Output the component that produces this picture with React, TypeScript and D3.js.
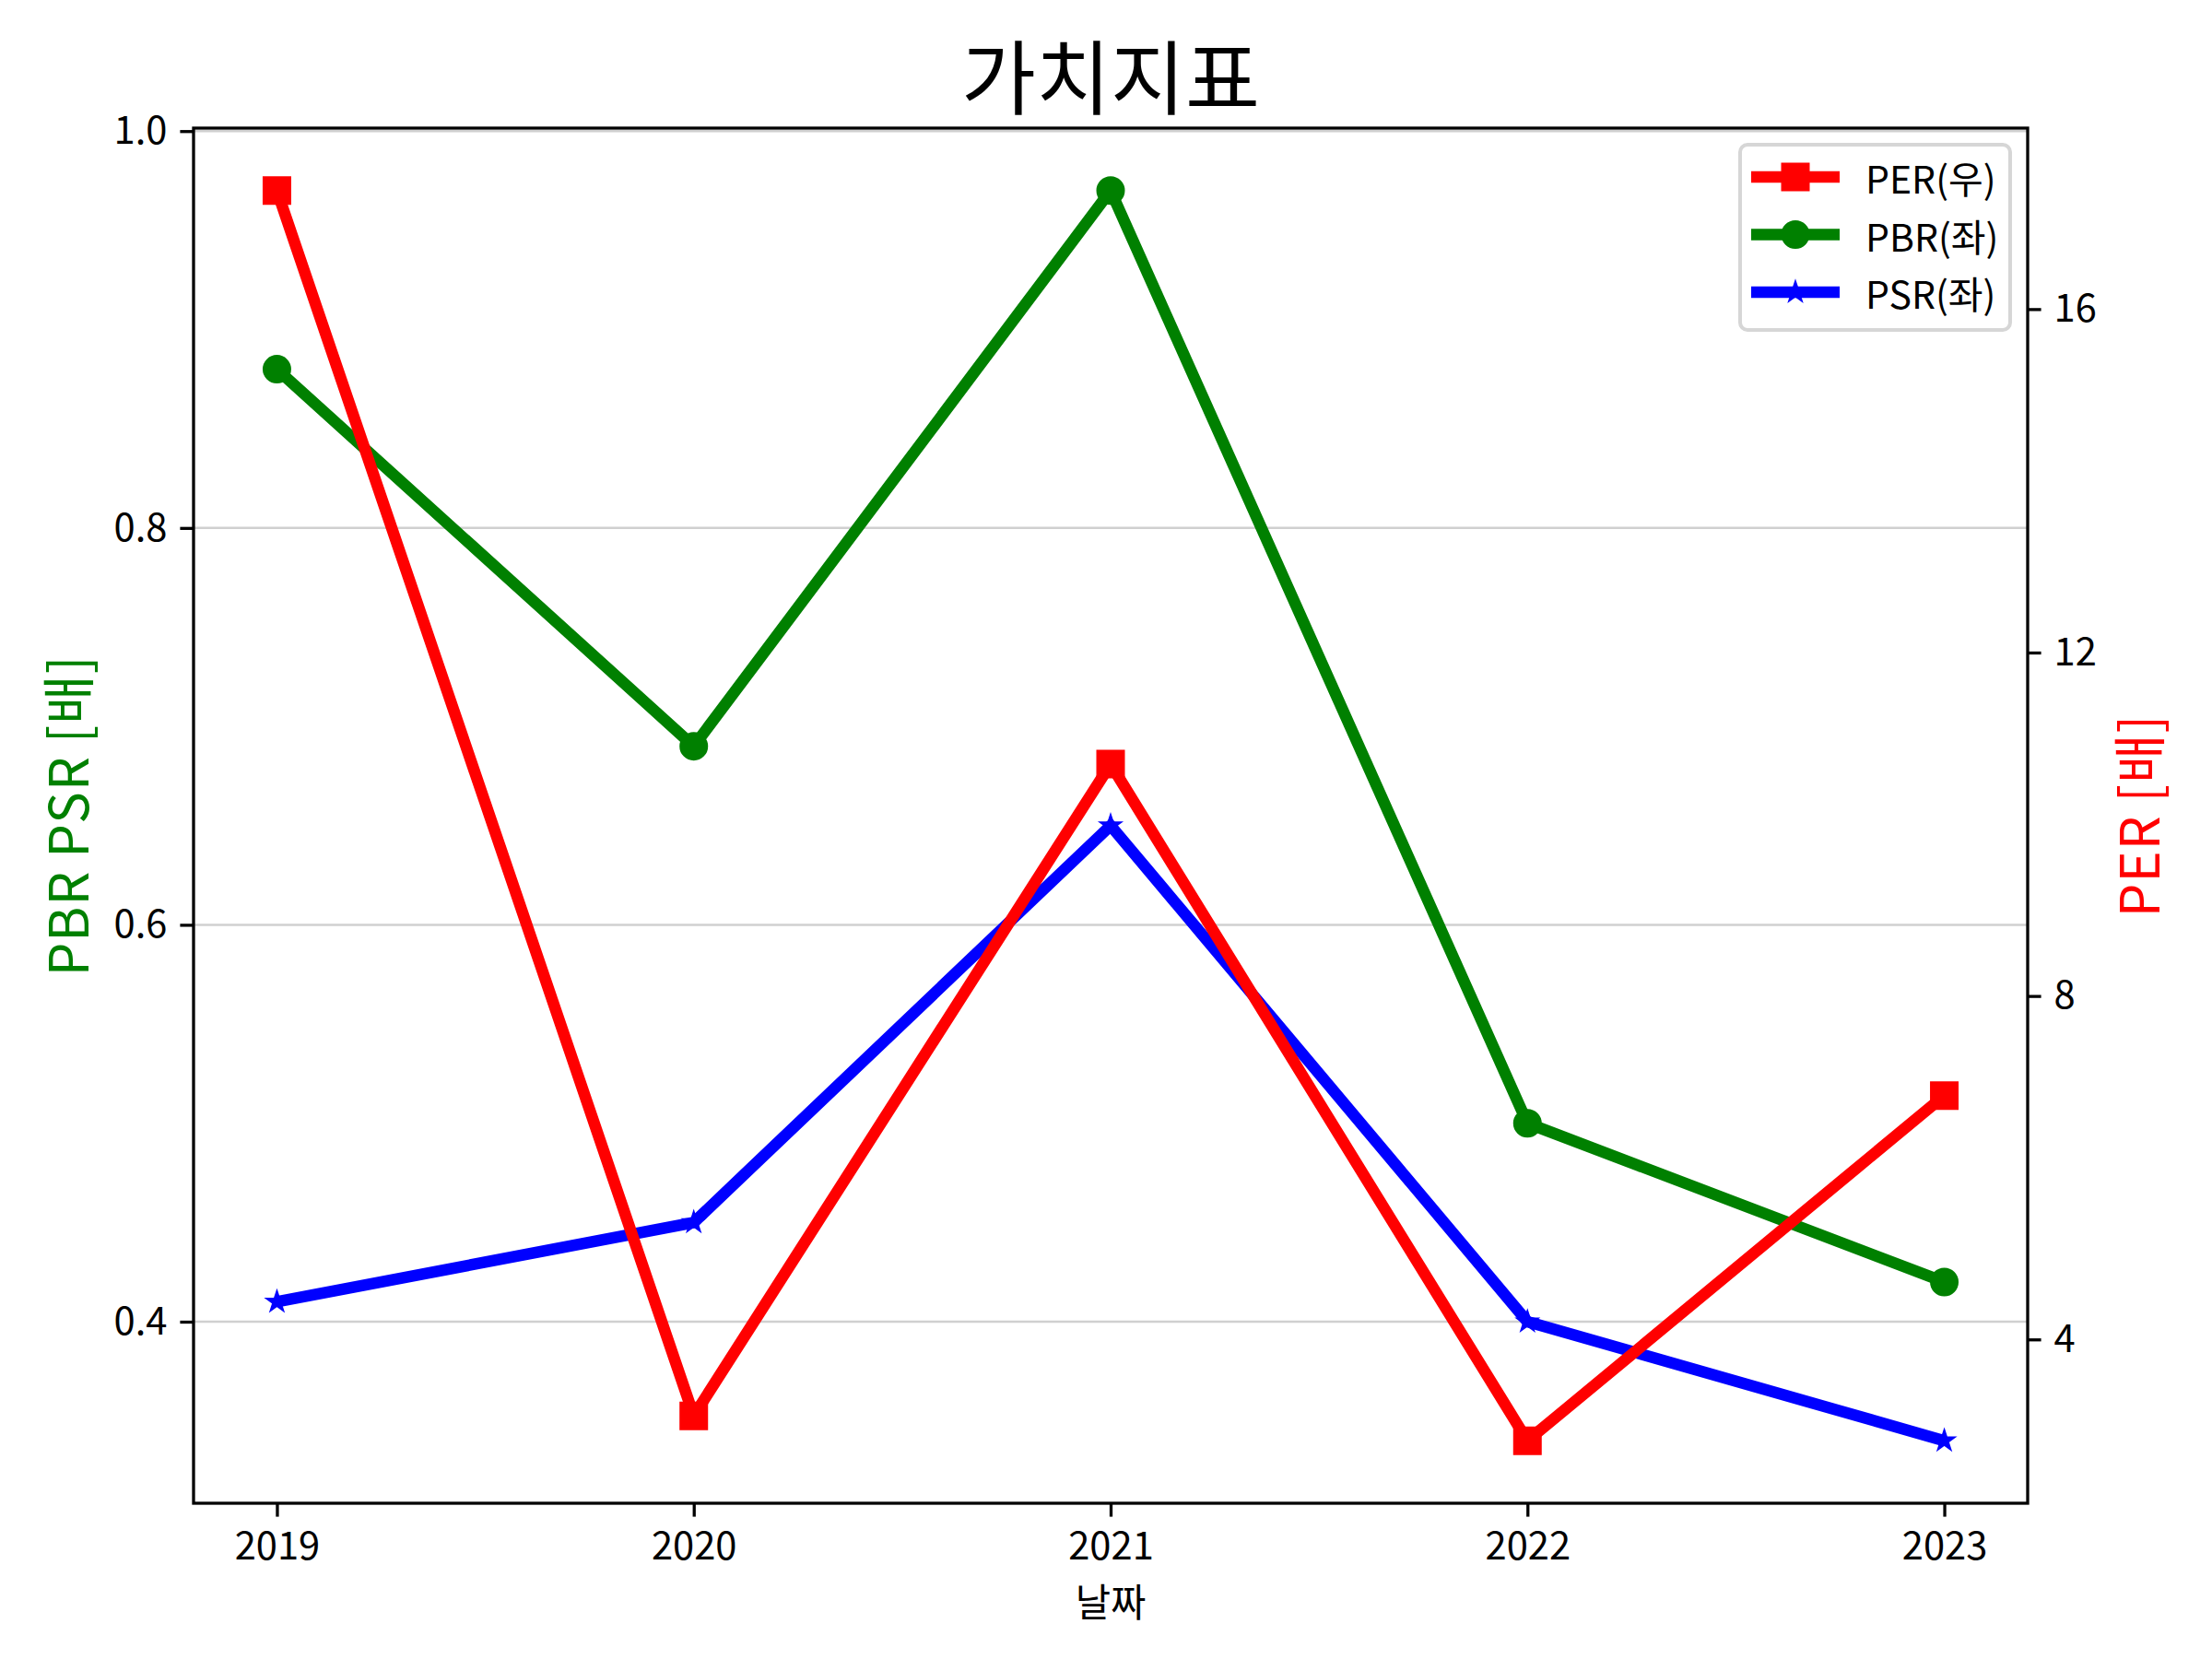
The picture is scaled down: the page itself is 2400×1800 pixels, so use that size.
import React, { useRef, useEffect } from 'react'
import * as d3 from 'd3'

const years = [2019, 2020, 2021, 2022, 2023]
const perValues = [17.38, 3.11, 10.7, 2.82, 6.84]
const pbrValues = [0.88, 0.69, 0.97, 0.5, 0.42]
const psrValues = [0.41, 0.45, 0.65, 0.4, 0.34]
const leftTicks = [0.4, 0.6, 0.8, 1.0]
const rightTicks = [4, 8, 12, 16]

const FONT = '"Noto Sans CJK KR", "Noto Sans", sans-serif'
const W = 2400
const H = 1800
const margin = { top: 139, right: 200, bottom: 169, left: 210 }

// matplotlib style 5% padding
const padded = (vals: number[]): [number, number] => {
  const [lo, hi] = d3.extent(vals) as [number, number]
  const m = (hi - lo) * 0.05
  return [lo - m, hi + m]
}

export default function App() {
  const svgRef = useRef<SVGSVGElement | null>(null)

  useEffect(() => {
    if (!svgRef.current) return
    const svg = d3.select(svgRef.current)
    svg.selectAll('*').remove()

    const innerW = W - margin.left - margin.right
    const innerH = H - margin.top - margin.bottom

    const x = d3.scaleLinear().domain(padded(years)).range([0, innerW])
    const yLeft = d3.scaleLinear().domain(padded([...pbrValues, ...psrValues])).range([innerH, 0])
    const yRight = d3.scaleLinear().domain(padded(perValues)).range([innerH, 0])

    svg.append('rect').attr('width', W).attr('height', H).attr('fill', '#fff')

    const g = svg.append('g').attr('transform', `translate(${margin.left},${margin.top})`)

    // grid from left axis
    g.append('g')
      .selectAll('line')
      .data(leftTicks)
      .enter().append('line')
      .attr('x1', 0)
      .attr('x2', innerW)
      .attr('y1', d => yLeft(d))
      .attr('y2', d => yLeft(d))
      .attr('stroke', '#d0d0d0')
      .attr('stroke-width', 2.5)

    const tickSize = 14.6
    const styleAxis = (sel: d3.Selection<SVGGElement, unknown, null, undefined>) => {
      sel.select('.domain').remove()
      sel.selectAll('.tick line').attr('stroke', '#000').attr('stroke-width', 3.3)
      sel.selectAll('.tick text')
        .attr('fill', '#000')
        .style('font-family', FONT)
        .style('font-size', '41.7px')
    }

    g.append('g')
      .attr('transform', `translate(0,${innerH})`)
      .call(d3.axisBottom(x).tickValues(years).tickFormat(d => String(d)).tickSize(tickSize).tickPadding(17))
      .call(styleAxis)

    g.append('g')
      .call(d3.axisLeft(yLeft).tickValues(leftTicks).tickFormat(d3.format('.1f')).tickSize(tickSize).tickPadding(14))
      .call(styleAxis)

    g.append('g')
      .attr('transform', `translate(${innerW},0)`)
      .call(d3.axisRight(yRight).tickValues(rightTicks).tickFormat(d => String(d)).tickSize(tickSize).tickPadding(14))
      .call(styleAxis)

    const series = [
      { name: 'PBR(좌)', color: '#008000', values: pbrValues, y: yLeft, symbol: d3.symbolCircle, size: 660 },
      { name: 'PSR(좌)', color: '#0000ff', values: psrValues, y: yLeft, symbol: d3.symbolStar, size: 150 },
      { name: 'PER(우)', color: '#ff0000', values: perValues, y: yRight, symbol: d3.symbolSquare, size: 841 },
    ]

    series.forEach(s => {
      const line = d3.line<number>()
        .x((_, i) => x(years[i]))
        .y(d => s.y(d))
      g.append('path')
        .datum(s.values)
        .attr('d', line)
        .attr('fill', 'none')
        .attr('stroke', s.color)
        .attr('stroke-width', 12.5)
        .attr('stroke-linejoin', 'miter')

      g.selectAll(null)
        .data(s.values)
        .enter().append('path')
        .attr('transform', (d, i) => `translate(${x(years[i])},${s.y(d)})`)
        .attr('d', d3.symbol().type(s.symbol).size(s.size)())
        .attr('fill', s.color)
        .attr('stroke', s.color)
        .attr('stroke-width', 2)
    })

    // frame
    g.append('rect')
      .attr('width', innerW)
      .attr('height', innerH)
      .attr('fill', 'none')
      .attr('stroke', '#000')
      .attr('stroke-width', 3.3)

    // legend
    const legendOrder = [series[2], series[0], series[1]]
    const lg = svg.append('g').attr('transform', 'translate(1888,157)')
    lg.append('rect')
      .attr('width', 293)
      .attr('height', 201)
      .attr('rx', 8)
      .attr('fill', '#fff')
      .attr('fill-opacity', 0.8)
      .attr('stroke', '#d6d6d6')
      .attr('stroke-width', 4)
    legendOrder.forEach((s, i) => {
      const cy = 35 + i * 62.5
      lg.append('line')
        .attr('x1', 12)
        .attr('x2', 108)
        .attr('y1', cy)
        .attr('y2', cy)
        .attr('stroke', s.color)
        .attr('stroke-width', 12.5)
      lg.append('path')
        .attr('transform', `translate(60,${cy})`)
        .attr('d', d3.symbol().type(s.symbol).size(s.size)())
        .attr('fill', s.color)
        .attr('stroke', s.color)
        .attr('stroke-width', 2)
      lg.append('text')
        .attr('x', 136)
        .attr('y', cy)
        .attr('dominant-baseline', 'central')
        .style('font-family', FONT)
        .style('font-size', '41px')
        .text(s.name)
    })

    // title and labels
    svg.append('text')
      .attr('x', margin.left + innerW / 2)
      .attr('y', 78)
      .attr('text-anchor', 'middle')
      .attr('dominant-baseline', 'central')
      .style('font-family', FONT)
      .style('font-size', '88px')
      .text('가치지표')

    svg.append('text')
      .attr('x', margin.left + innerW / 2)
      .attr('y', 1736)
      .attr('text-anchor', 'middle')
      .attr('dominant-baseline', 'central')
      .style('font-family', FONT)
      .style('font-size', '41.7px')
      .text('날짜')

    svg.append('text')
      .attr('transform', `translate(71,${margin.top + innerH / 2}) rotate(-90)`)
      .attr('text-anchor', 'middle')
      .attr('dominant-baseline', 'central')
      .attr('fill', '#008000')
      .style('font-family', FONT)
      .style('font-size', '58px')
      .style('letter-spacing', '1px')
      .text('PBR PSR [배]')

    svg.append('text')
      .attr('transform', `translate(2318,${margin.top + innerH / 2}) rotate(-90)`)
      .attr('text-anchor', 'middle')
      .attr('dominant-baseline', 'central')
      .attr('fill', '#ff0000')
      .style('font-family', FONT)
      .style('font-size', '58px')
      .style('letter-spacing', '1px')
      .text('PER [배]')
  }, [])

  return (
    <svg
      ref={svgRef}
      width={W}
      height={H}
      style={{ position: 'absolute', left: 0, top: 0, display: 'block' }}
    />
  )
}
